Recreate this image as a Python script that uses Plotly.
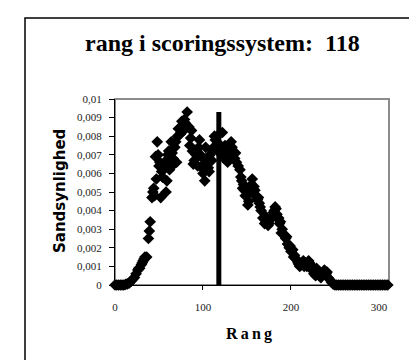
import plotly.graph_objects as go

# Ranks (main sequence, every second rank) and estimated probabilities
rank_main = list(range(0, 314, 2))
prob_main = [
    0, 0, 0, 0, 0, 0, 0.00003, 0.00006, 0.0001, 0.0002,          # 0-18
    0.0003, 0.0004, 0.0006, 0.0008, 0.0009, 0.0011, 0.0013, 0.0015, 0.0015, 0.0025,  # 20-38
    0.0034, 0.0047, 0.0052, 0.0069, 0.0077, 0.0064, 0.0047, 0.0058, 0.0066, 0.0050,  # 40-58
    0.0070, 0.0062, 0.0077, 0.0068, 0.0074, 0.0066, 0.0084, 0.0081, 0.0088, 0.0083,  # 60-78
    0.0087, 0.0093, 0.0085, 0.0079, 0.0072, 0.0067, 0.0070, 0.0064, 0.0078, 0.0069,  # 80-98
    0.0060, 0.0056, 0.0068, 0.0063, 0.0070, 0.0067, 0.0074, 0.0078, 0.0080, 0.0076,  # 100-118
    0.0072, 0.0082, 0.0068, 0.0070, 0.0066, 0.0072, 0.0077, 0.0070, 0.0068, 0.0066,  # 120-138
    0.0064, 0.0062, 0.0056, 0.0054, 0.0048, 0.0052, 0.0045, 0.0050, 0.0057, 0.0053,  # 140-158
    0.0048, 0.0046, 0.0044, 0.0040, 0.0036, 0.0033, 0.0034, 0.0032, 0.0035, 0.0036,  # 160-178
    0.0039, 0.0042, 0.0038, 0.0036, 0.0034, 0.0030, 0.0027, 0.0025, 0.0022, 0.0020,  # 180-198
    0.0018, 0.0019, 0.0016, 0.0014, 0.0012, 0.0010, 0.0011, 0.0013, 0.0012, 0.0010,  # 200-218
    0.0013, 0.0011, 0.0008, 0.0006, 0.0005, 0.0007, 0.0005, 0.0004, 0.0006, 0.0008,  # 220-238
    0.0006, 0.0004, 0.0003, 0.00015, 0.00005, 0, 0, 0, 0, 0,                         # 240-258
    0, 0, 0, 0, 0, 0, 0, 0, 0, 0,                                                     # 260-278
    0, 0, 0, 0, 0, 0, 0, 0, 0, 0,                                                     # 280-298
    0, 0, 0, 0, 0, 0, 0,                                                              # 300-312
]

# Additional (odd) ranks giving the cloud its thickness
rank_extra = [27, 31, 33, 39, 43, 45, 47, 49, 51, 53, 57, 59, 61, 63, 65, 67, 69, 71, 75, 77, 79,
              85, 87, 89, 93, 95, 97, 99, 101, 103, 107, 111, 113, 115, 121, 125, 127, 129,
              133, 137, 143, 145, 147, 151, 155, 157, 159, 163, 165, 171, 175, 181, 183,
              185, 187, 189, 195, 199, 203, 209, 215, 221, 229, 233, 237, 241]
prob_extra = [0.0009, 0.0012, 0.0014, 0.0029, 0.0050,
              0.0048, 0.0057, 0.0070, 0.0066, 0.0061, 0.0063, 0.0056, 0.0072, 0.0066, 0.0071,
              0.0065, 0.0077, 0.0080, 0.0082, 0.0086, 0.0089, 0.0075, 0.0083, 0.0065,
              0.0072, 0.0074, 0.0070, 0.0063, 0.0065, 0.0074, 0.0061, 0.0072, 0.0080, 0.0073,
              0.0070, 0.0075, 0.0073, 0.0069, 0.0074, 0.0071,
              0.0058, 0.0052, 0.0051, 0.0043, 0.0054, 0.0049, 0.0051, 0.0047, 0.0042,
              0.0037, 0.0033, 0.0040, 0.0041, 0.0036, 0.0033,
              0.0028, 0.0026, 0.0021, 0.0015, 0.0011, 0.0010, 0.0012, 0.0009, 0.0006,
              0.0007, 0.0007]

marker_rank = [118, 118]
marker_prob = [0, 0.0093]

y_ticks = [0, 0.001, 0.002, 0.003, 0.004, 0.005, 0.006, 0.007, 0.008, 0.009, 0.01]
y_ticktext = ["0", "0,001", "0,002", "0,003", "0,004", "0,005", "0,006", "0,007",
              "0,008", "0,009", "0,01"]
x_ticks = [0, 100, 200, 300]
x_ticktext = ["0", "100", "200", "300"]

title_text = "rang i scoringssystem:  118"
x_title = "Rang"
y_title = "Sandsynlighed"

serif = "Liberation Serif, Times New Roman, serif"

fig = go.Figure()
fig.add_trace(go.Scatter(
    x=rank_main + rank_extra, y=prob_main + prob_extra, mode="markers",
    marker=dict(symbol="diamond", size=9, color="black", line=dict(width=0)),
    cliponaxis=False, showlegend=False, hoverinfo="skip"))
fig.add_trace(go.Scatter(
    x=marker_rank, y=marker_prob, mode="lines",
    line=dict(color="black", width=5), cliponaxis=False, showlegend=False))

L, R, T, B = 107, 36, 91, 83
PW, PH = 417 - L - R, 360 - T - B

def px_x(px):
    return (px - L) / PW

def px_y(py):
    return (360 - B - py) / PH

fig.update_layout(
    width=417, height=360,
    margin=dict(l=L, r=R, t=T, b=B),
    paper_bgcolor="white", plot_bgcolor="white",
    showlegend=False,
    xaxis=dict(range=[0, 311.4], tickvals=x_ticks, ticktext=x_ticktext,
               showgrid=False, zeroline=False, showline=True, linecolor="black", linewidth=1,
               ticks="outside", ticklen=4, tickcolor="black", tickwidth=1,
               ticklabelstandoff=8,
               tickfont=dict(family=serif, size=11, color="#222")),
    yaxis=dict(range=[0, 0.01], tickvals=y_ticks, ticktext=y_ticktext,
               showgrid=False, zeroline=False, showline=True, linecolor="black", linewidth=1,
               ticks="outside", ticklen=5, tickcolor="black", tickwidth=1,
               ticklabelstandoff=5,
               tickfont=dict(family=serif, size=11, color="#222")),
    shapes=[
        dict(type="rect", xref="paper", yref="paper", x0=0, x1=1, y0=0, y1=1,
             line=dict(color="#8c8c8c", width=2), layer="below"),
        dict(type="rect", xref="paper", yref="paper",
             x0=px_x(17), x1=px_x(409), y0=px_y(365), y1=px_y(10),
             line=dict(color="black", width=1.5), layer="above"),
    ],
    annotations=[
        dict(text="<b>" + title_text + "</b>", xref="paper", yref="paper",
             x=px_x(214), y=px_y(35), xanchor="center", yanchor="middle",
             showarrow=False, font=dict(family=serif, size=24, color="black")),
        dict(text="<b>" + y_title + "</b>", xref="paper", yref="paper",
             x=px_x(52), y=px_y(183), xanchor="center", yanchor="middle", textangle=-90,
             showarrow=False, font=dict(family="DejaVu Sans", size=15, color="black")),
        dict(text="<b>R\u2009a\u2009n\u2009g</b>", xref="paper", yref="paper",
             x=px_x(241), y=px_y(326), xanchor="center", yanchor="middle",
             showarrow=False, font=dict(family=serif, size=16, color="black")),
    ],
)

fig.write_html("out.html")
